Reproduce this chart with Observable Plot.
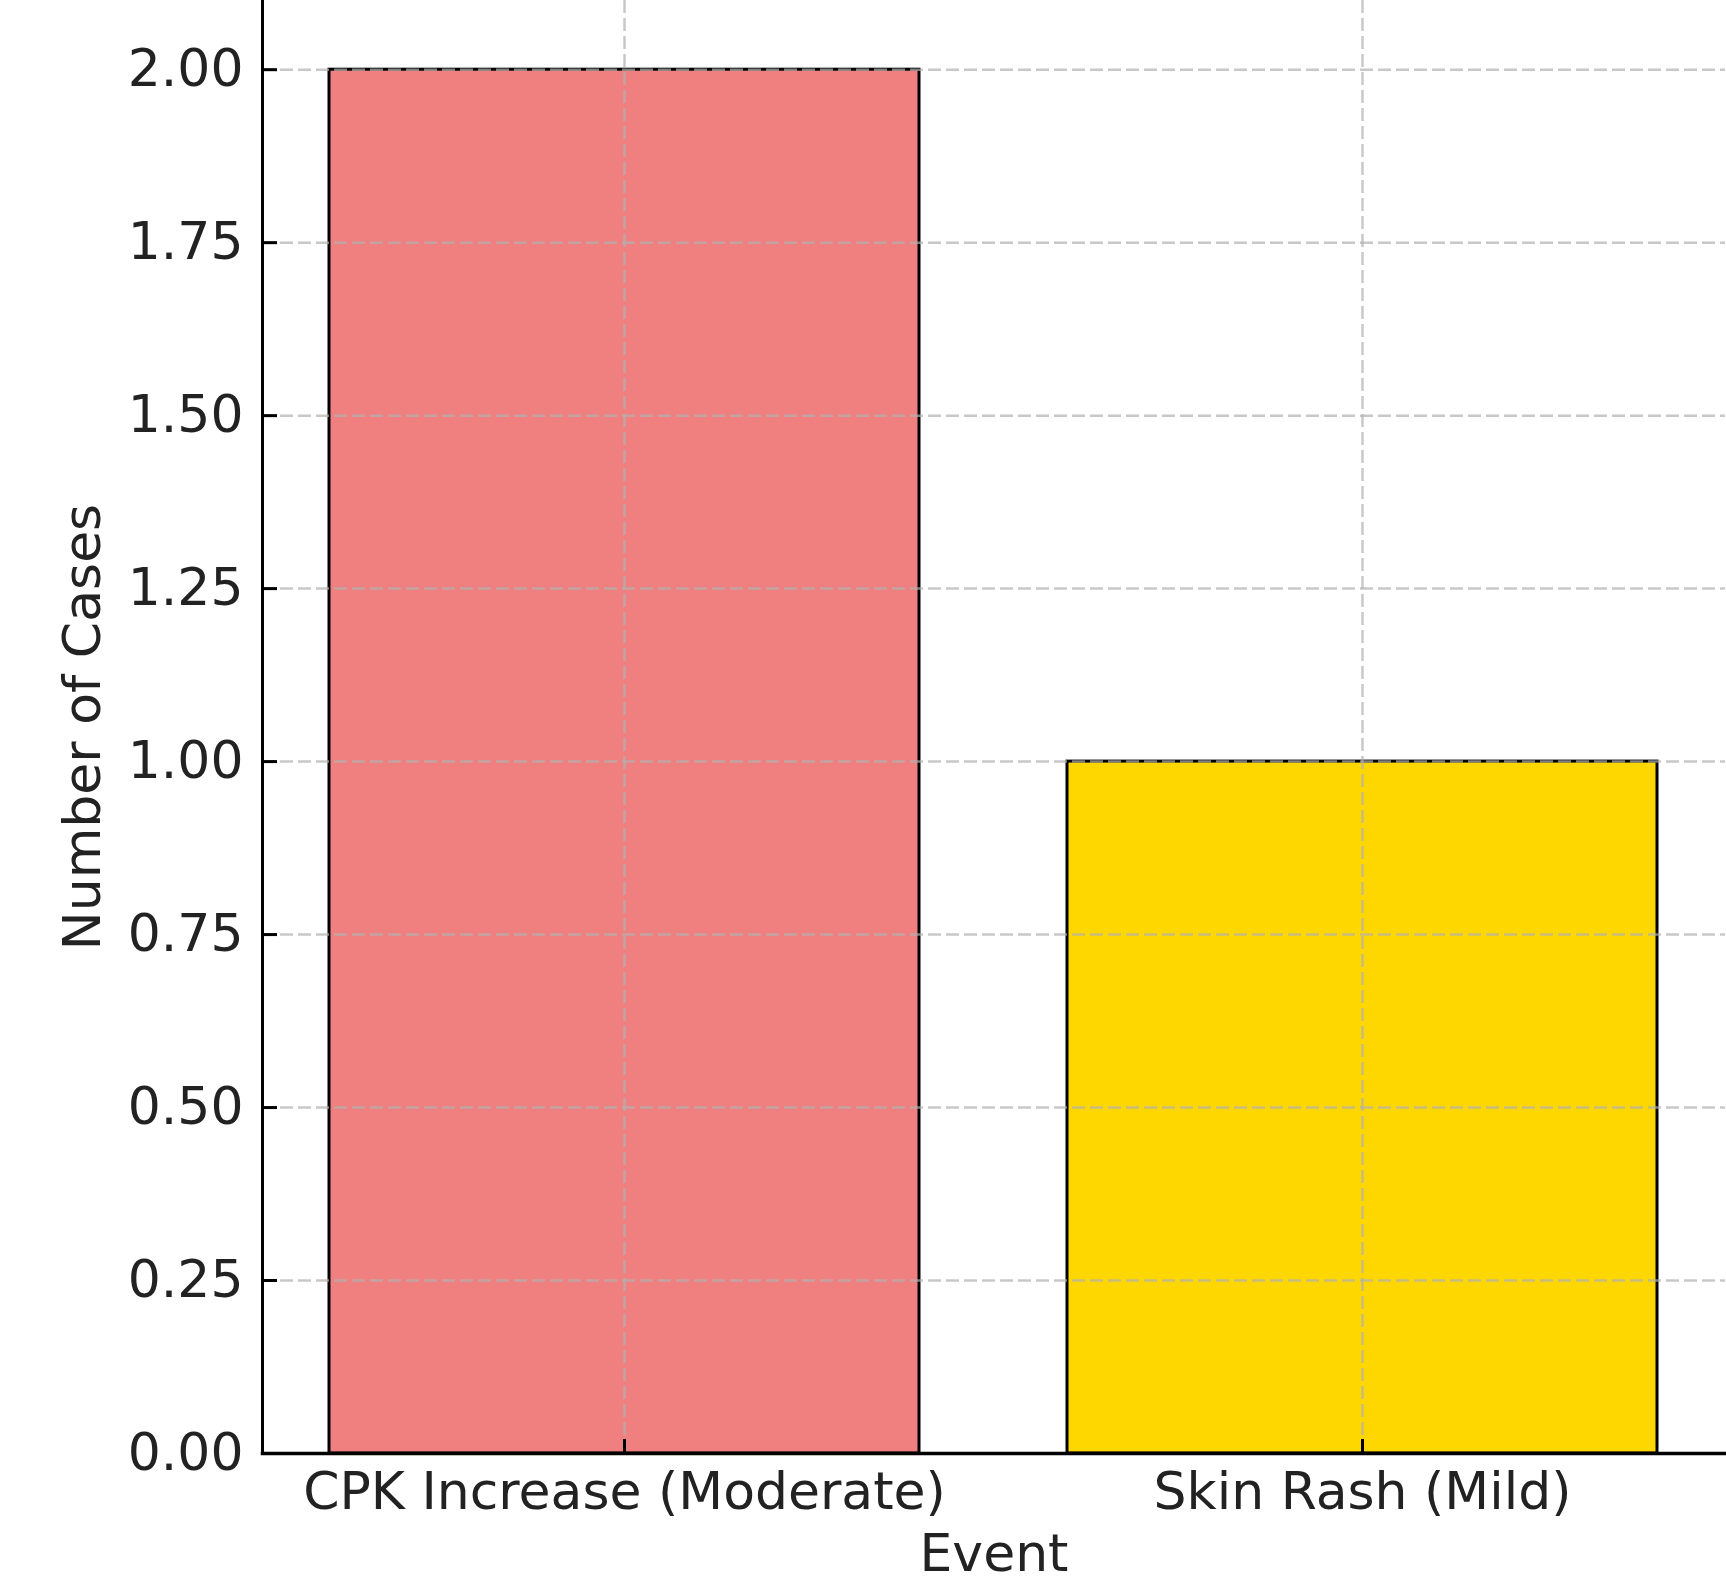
<!DOCTYPE html>
<html>
<head>
<meta charset="utf-8">
<script src="https://cdn.jsdelivr.net/npm/d3@7"></script>
<script src="https://cdn.jsdelivr.net/npm/@observablehq/plot@0.6"></script>
<style>
  html, body { margin: 0; padding: 0; background: white; }
  #chart svg { display: block; }
</style>
</head>
<body>
<div id="chart"></div>
<script>
const events = ["CPK Increase (Moderate)", "Skin Rash (Mild)"];
const cases = [2, 1];
const yTicks = [0, 0.25, 0.5, 0.75, 1.0, 1.25, 1.5, 1.75, 2.0];
const xLabel = "Event";
const yLabel = "Number of Cases";

const data = events.map((e, i) => ({event: e, cases: cases[i]}));

const gridStyle = {stroke: "#b0b0b0", strokeOpacity: 0.7, strokeWidth: 2.5, strokeDasharray: "13,5"};

const chart = Plot.plot({
  width: 1726,
  height: 1582,
  marginLeft: 262,
  marginRight: 1,
  marginTop: 0,
  marginBottom: 129,
  style: {fontFamily: "DejaVu Sans", fontSize: "52px", color: "#222", background: "white"},
  x: {type: "band", domain: events, paddingInner: 0.2, paddingOuter: 0.09, axis: null},
  y: {domain: [0, 2.1], axis: null},
  color: {domain: events, range: ["#F08080", "#FFD700"]},
  marks: [
    Plot.barY(data, {x: "event", y: "cases", fill: "event", stroke: "black", strokeWidth: 3}),
    Plot.gridY(yTicks, gridStyle),
    Plot.gridX(events, gridStyle),
    Plot.axisY(yTicks, {anchor: "left", tickSize: -15, tickPadding: 34, strokeWidth: 3, stroke: "black", tickFormat: d3.format(".2f"), label: null, fontSize: 52}),
    Plot.axisX(events, {anchor: "bottom", tickSize: -14, tickPadding: 33, strokeWidth: 3, stroke: "black", label: null, fontSize: 52}),
    Plot.frame({anchor: "left", stroke: "black", strokeWidth: 3}),
    Plot.frame({anchor: "bottom", stroke: "black", strokeWidth: 3.5}),
    Plot.text([xLabel], {frameAnchor: "bottom", textAnchor: "middle", lineAnchor: "top", dy: 81, fontSize: 52, fill: "#222"}),
    Plot.text([yLabel], {frameAnchor: "left", textAnchor: "middle", rotate: -90, lineAnchor: "top", dx: -199, fontSize: 52, fill: "#222"})
  ]
});
document.getElementById("chart").appendChild(chart);
</script>
</body>
</html>
